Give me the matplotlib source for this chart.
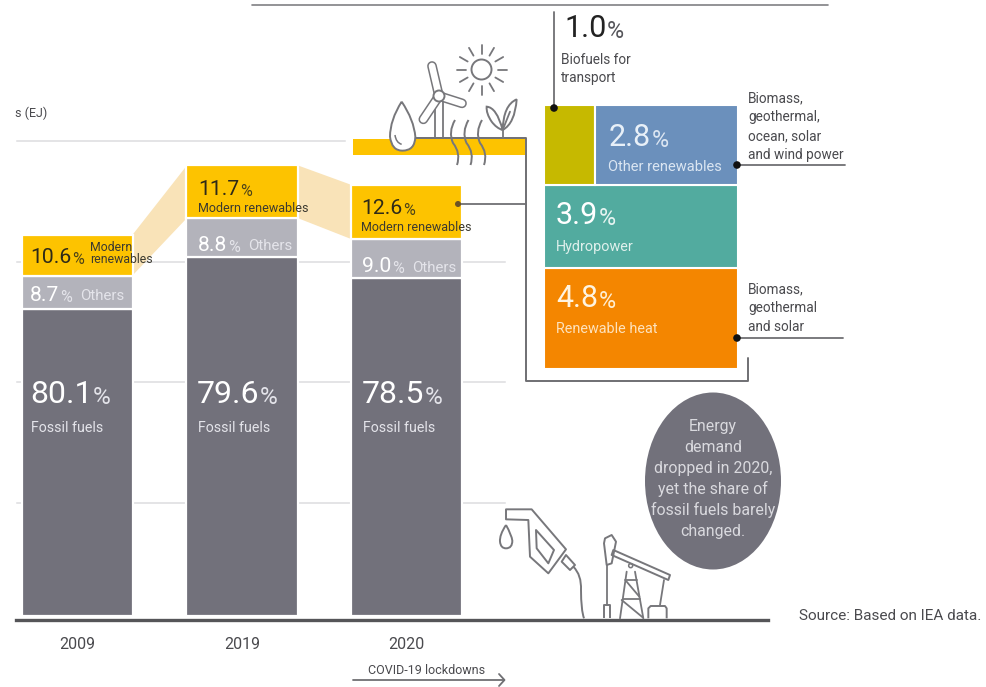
import matplotlib
matplotlib.use("Agg")
import numpy as np
import matplotlib.pyplot as plt
from matplotlib.patches import Circle, Ellipse, PathPatch, Polygon, Rectangle
from matplotlib.path import Path

plt.rcParams["font.family"] = ["Roboto", "DejaVu Sans"]

# Shares of total final energy consumption
years = ["2009", "2019", "2020"]
fossil_share = [80.1, 79.6, 78.5]
others_share = [8.7, 8.8, 9.0]
modern_share = [10.6, 11.7, 12.6]
total_ej = [318.0, 373.9, 357.3]
grid_levels = [94, 194, 294, 394]

# 2020 modern renewables split
heat_share = 4.8
hydro_share = 3.9
other_ren_share = 2.8
biofuel_share = 1.0

W, H = 986, 687
GREY = "#72717b"
LIGHT = "#b3b3bb"
YELLOW = "#fdc300"
FAN = "#f9e3b8"
OLIVE = "#c6b900"
BLUE = "#6b90bc"
TEAL = "#52ab9f"
ORANGE = "#f48600"
LINE = "#6f6f73"
ICON = "#77777b"
DARK = "#3c3a30"
TEXT = "#4a4a4e"
PALE = "#e4e4ea"

BIG = 22
MID = 15.2

fig = plt.figure(figsize=(W / 100, H / 100), dpi=100, facecolor="white")


def place(ax_left, ax_top, ax_right, ax_bottom):
    return fig.add_axes([ax_left / W, 1 - ax_bottom / H,
                         (ax_right - ax_left) / W, (ax_bottom - ax_top) / H])


# Stacked bars, one axes unit of x per year
PX_PER_EJ = 1.205
STEP = 164.5
bars = place(0, 0, W, 616)
bars.set_xlim(-77.5 / STEP, (W - 77.5) / STEP)
bars.set_ylim(0, 616 / PX_PER_EJ)
for side in bars.spines.values():
    side.set_visible(False)
bars.set_yticks([])
x = np.arange(len(years))
bars.set_xticks(x, years, fontsize=11.5, color=TEXT)
bars.tick_params(axis="x", length=0, pad=15)

total = np.array(total_ej)
fossil = np.array(fossil_share) * total / 100
others = np.array(others_share) * total / 100
modern = np.array(modern_share) * total / 100
bar_w = 111.5 / STEP
grid_x0, grid_x1 = (17 - 77.5) / STEP, (505 - 77.5) / STEP
for level in grid_levels:
    end = (345 - 77.5) / STEP if level == grid_levels[-1] else grid_x1
    bars.plot([grid_x0, end], [level, level], color="#dcdcdf", lw=1.1, zorder=1)
style = dict(width=bar_w, edgecolor="white", linewidth=1.6, zorder=3)
bars.bar(x, fossil, color=GREY, **style)
bars.bar(x, others, bottom=fossil, color=LIGHT, **style)
bars.bar(x, modern, bottom=fossil + others, color=YELLOW, **style)

# Bands joining the modern-renewables segments
low = fossil + others
high = low + modern
half = (109.5 / STEP) / 2
for i in range(len(years) - 1):
    bars.add_patch(Polygon([(x[i] + half, high[i]), (x[i + 1] - half, high[i + 1]),
                            (x[i + 1] - half, low[i + 1]), (x[i] + half, low[i])],
                           facecolor=FAN, edgecolor="none", zorder=2))

# Breakdown of the 2020 modern renewables
parts = place(544, 105, 738, 369)
parts.set_xlim(0, biofuel_share + other_ren_share)
parts.set_ylim(0, heat_share + hydro_share + biofuel_share + other_ren_share)
parts.axis("off")
box = dict(edgecolor="white", linewidth=1.5, align="edge")
parts.bar(0, heat_share, width=biofuel_share + other_ren_share, color=ORANGE, **box)
parts.bar(0, hydro_share, bottom=heat_share, width=biofuel_share + other_ren_share,
          color=TEAL, **box)
parts.bar(0, biofuel_share + other_ren_share, bottom=heat_share + hydro_share,
          width=biofuel_share, color=OLIVE, **box)
parts.bar(biofuel_share, biofuel_share + other_ren_share, bottom=heat_share + hydro_share,
          width=other_ren_share, color=BLUE, **box)

# Annotation layer in figure pixels
art = fig.add_axes([0, 0, 1, 1], facecolor="none")
art.set_xlim(0, W)
art.set_ylim(H, 0)
art.axis("off")


def line(xs, ys, color=LINE, lw=1.3, z=4, **kw):
    art.plot(xs, ys, color=color, lw=lw, zorder=z, solid_capstyle="round",
             solid_joinstyle="round", **kw)


def label(px, py, s, size=10, color=TEXT, **kw):
    return art.text(px, py, s, fontsize=size, color=color, va="baseline", zorder=7, **kw)


def figure(px, py, value, size, color, pct_color=None):
    """Large number followed by a smaller, lighter percent sign."""
    t = label(px, py, value, size=size, color=color)
    art.annotate("%", xy=(1, 0), xycoords=t, xytext=(0.5, 0), textcoords="offset points",
                 fontsize=size * 0.76, color=pct_color or color, va="bottom", ha="left",
                 zorder=7)
    return t


def dot(px, py, color="#111111", r=3.8):
    art.add_patch(Circle((px, py), r, facecolor=color, edgecolor="none", zorder=6))


# Frame lines
line([252, 828], [4.5, 4.5], color="#808084", lw=1.2)
art.plot([16, 768], [619.5, 619.5], color="#555558", lw=2.4, zorder=4)
label(15, 117, "s (EJ)", size=9)

# Bar labels
for px, value in zip([30, 197, 362], fossil_share):
    figure(px, 403, f"{value}", BIG + 1, "white", PALE)
    label(px + 1, 432, "Fossil fuels", color=PALE, size=10.2)

figure(30, 263, f"{modern_share[0]}", MID, "#2e2a18", "#4e4418")
label(90, 251, "Modern", size=8.8, color=DARK)
label(90, 263, "renewables", size=8.8, color=DARK)
figure(30, 301, f"{others_share[0]}", MID, "white", PALE)
label(80, 300, "Others", size=10.8, color=PALE)

figure(198, 195, f"{modern_share[1]}", MID, "#2e2a18", "#4e4418")
label(198, 212, "Modern renewables", size=9, color=DARK)
figure(198, 251, f"{others_share[1]}", MID, "white", PALE)
label(248, 250, "Others", size=10.8, color=PALE)

figure(361, 214, f"{modern_share[2]}", MID, "#2e2a18", "#4e4418")
label(361, 231, "Modern renewables", size=9, color=DARK)
figure(362, 272, f"{others_share[2]}", MID, "white", PALE)
label(412, 272, "Others", size=10.8, color=PALE)

# Ground band and the bracket around the breakdown
art.add_patch(Rectangle((353, 139), 172, 16, facecolor=YELLOW, edgecolor="none", zorder=2))
line([402, 526, 526, 748, 748], [138, 138, 380.5, 380.5, 358], lw=1.4)
line([458, 526], [204, 204])
dot(458, 204, color="#6a5226", r=3)

# Breakdown labels
figure(564, 37, f"{biofuel_share}", BIG, "#222222", "#55555a")
label(561, 64, "Biofuels for", size=9.8)
label(561, 82, "transport", size=9.8)
line([554, 554], [12, 107])
dot(554, 108)

figure(609, 146, f"{other_ren_share}", BIG, "#e8f0f8", "#dce6f2")
label(608, 171, "Other renewables", size=10.5, color="#dbe6f2")
dot(737, 165)
line([737, 845], [165, 165])
for py, s in zip([102, 121, 140, 159],
                 ["Biomass,", "geothermal,", "ocean, solar", "and wind power"]):
    label(748, py, s, size=9.8)

figure(556, 224, f"{hydro_share}", BIG, "white", "#e6f4f1")
label(556, 251, "Hydropower", size=10.4, color="#dff0ec")

figure(556, 307, f"{heat_share}", BIG, "#fff4e0", "#ffeed2")
label(556, 333, "Renewable heat", size=10.4, color="#fde2bd")
dot(737, 338)
line([737, 843], [338, 338])
for py, s in zip([293, 312, 331], ["Biomass,", "geothermal", "and solar"]):
    label(748, py, s, size=9.8)

# Call-out circle
art.add_patch(Ellipse((713, 481), 136, 177, facecolor=GREY, edgecolor="none", zorder=3))
for py, s in zip([431, 452, 473, 494, 515, 536],
                 ["Energy", "demand", "dropped in 2020,", "yet the share of",
                  "fossil fuels barely", "changed."]):
    label(713, py, s, size=11.4, color="#d9d9de", ha="center")

# Footer
label(368, 674, "COVID-19 lockdowns", size=9)
line([353, 504], [680, 680])
line([499, 504.5, 499], [674, 680, 686])
label(799, 620, "Source: Based on IEA data.", size=11)


# Line icons, sketched on small local grids
def grid1(pts):
    return [(340 + a / 3, b / 3) for a, b in pts]


def grid2(pts):
    return [(480 + a / 3, 500 + b / 3) for a, b in pts]


def outline(pts, closed=True, fill="none", lw=1.4, z=5):
    art.add_patch(Polygon(pts, closed=closed, facecolor=fill, edgecolor=ICON,
                          lw=lw, zorder=z, joinstyle="round"))


def curve(pts, fill="none", lw=1.4, z=5):
    codes = [Path.MOVETO] + [Path.CURVE3] * (len(pts) - 1)
    art.add_patch(PathPatch(Path(pts, codes), facecolor=fill, edgecolor=ICON,
                            lw=lw, zorder=z))


# Water drop
curve(grid1([(185, 305), (150, 360), (150, 410), (155, 452), (187, 452),
             (225, 452), (226, 410), (222, 360), (185, 305)]), fill="white")
curve(grid1([(165, 405), (168, 428), (185, 433)]), lw=1.1)

# Wind turbine
line(*zip(*grid1([(285, 305), (285, 412)])), color=ICON)
line(*zip(*grid1([(308, 305), (308, 412)])), color=ICON)
for tip in [(276, 198), (366, 310), (250, 358)]:
    blade = grid1([(297, 288), tip])
    art.plot(*zip(*blade), color=ICON, lw=7, solid_capstyle="round", zorder=4)
    art.plot(*zip(*blade), color="white", lw=4.8, solid_capstyle="round", zorder=4.1)
art.add_patch(Circle((439, 96), 5.5, facecolor="white", edgecolor=ICON, lw=1.4, zorder=5))

# Sun
art.add_patch(Circle((481.5, 69.5), 10, facecolor="none", edgecolor=ICON, lw=1.4, zorder=5))
for angle in np.deg2rad(np.arange(0, 360, 30)):
    line([481.5 + 16 * np.cos(angle), 481.5 + 25 * np.cos(angle)],
         [69.5 + 16 * np.sin(angle), 69.5 + 25 * np.sin(angle)], color=ICON)

# Heat waves
for dx in [0, 13.5, 27]:
    curve([(455 + dx, 120), (448 + dx, 132), (453 + dx, 143), (461 + dx, 153), (457 + dx, 165)])

# Sprout
line(*zip(*grid1([(488, 415), (488, 388)])), color=ICON)
curve(grid1([(488, 390), (470, 385), (455, 365), (438, 340), (440, 320),
             (470, 322), (488, 390)]))
curve(grid1([(488, 390), (525, 370), (530, 298), (490, 315), (488, 390)]))
line(*zip(*grid1([(490, 385), (510, 335)])), color=ICON)

# Fuel nozzle
outline(grid2([(78, 28), (155, 28), (258, 148), (205, 220), (150, 170), (145, 60), (78, 58)]))
outline(grid2([(168, 90), (222, 150), (205, 190), (170, 145)]))
outline(grid2([(258, 165), (285, 195), (270, 210), (245, 185)]))
curve(grid2([(280, 200), (305, 225), (303, 270), (303, 330), (312, 355)]))
curve(grid2([(78, 75), (58, 105), (60, 125), (62, 145), (78, 145),
             (97, 145), (97, 122), (95, 105), (78, 75)]))

# Pumpjack
outline(grid2([(375, 115), (395, 105), (408, 125), (395, 190), (380, 195), (372, 130)]))
outline(grid2([(400, 150), (570, 225), (565, 240), (395, 165)]))
for seg in [[(381, 195), (381, 315)], [(440, 215), (420, 355)], [(465, 215), (490, 355)],
            [(435, 240), (470, 240)], [(428, 298), (480, 298)], [(440, 245), (478, 290)],
            [(425, 300), (488, 352)], [(552, 240), (540, 315)]]:
    line(*zip(*grid2(seg)), color=ICON)
outline(grid2([(372, 355), (372, 315), (390, 315), (390, 355)]), closed=False)
outline(grid2([(505, 355), (505, 325), (512, 318), (555, 318), (560, 325), (560, 355)]),
        closed=False)
art.add_patch(Circle((480 + 452 / 3, 500 + 197 / 3), 2, facecolor="none",
                     edgecolor=ICON, lw=1.1, zorder=5))

fig.savefig("out.png", dpi=100)
